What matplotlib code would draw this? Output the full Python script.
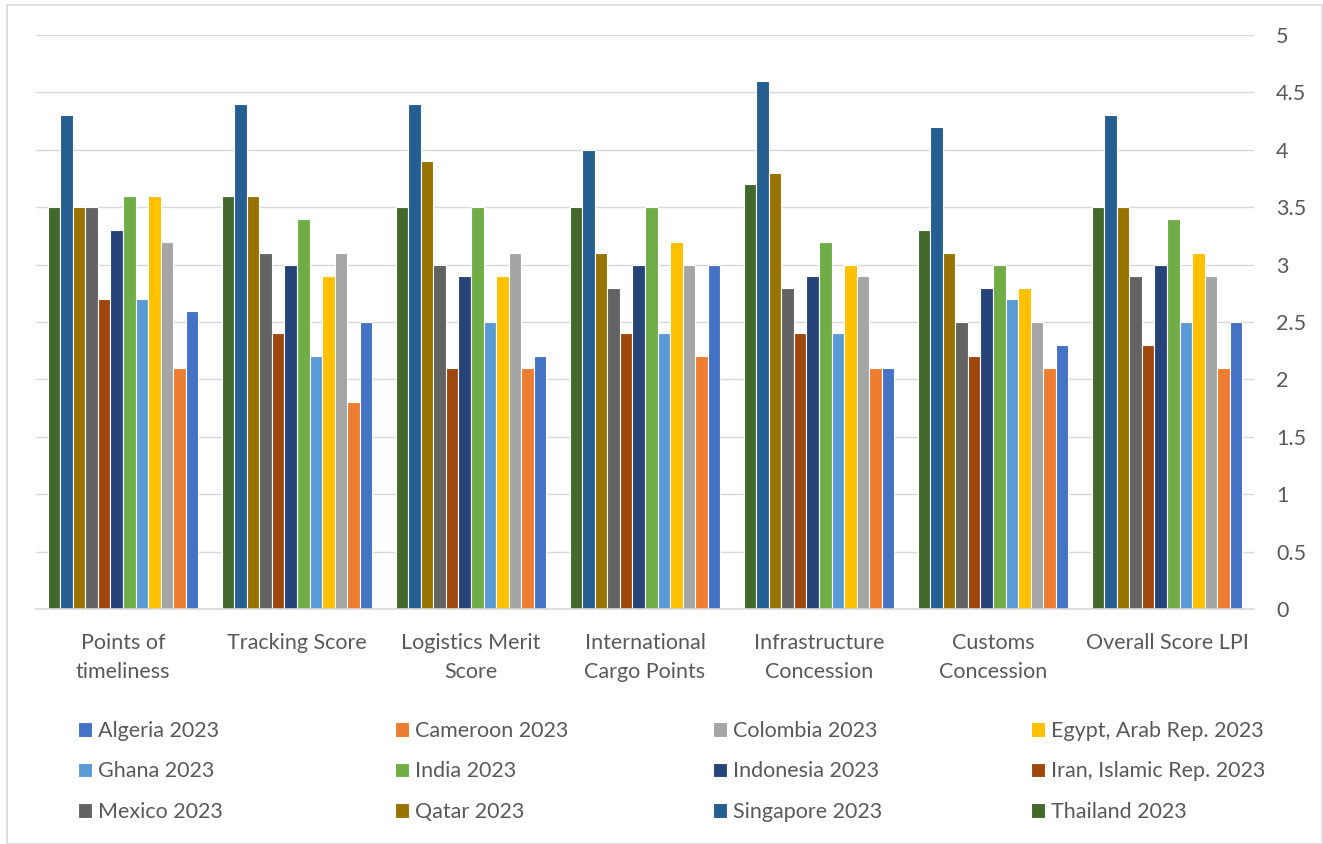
import matplotlib.pyplot as plt
import matplotlib.patches as mpatches
import numpy as np

plt.rcParams['font.family'] = ['Lato', 'DejaVu Sans']

categories = ['Points of\ntimeliness', 'Tracking Score', 'Logistics Merit\nScore',
              'International\nCargo Points', 'Infrastructure\nConcession',
              'Customs\nConcession', 'Overall Score LPI']

# legend order
countries = ['Algeria 2023', 'Cameroon 2023', 'Colombia 2023', 'Egypt, Arab Rep. 2023',
             'Ghana 2023', 'India 2023', 'Indonesia 2023', 'Iran, Islamic Rep. 2023',
             'Mexico 2023', 'Qatar 2023', 'Singapore 2023', 'Thailand 2023']
colors = ['#4472C4', '#ED7D31', '#A5A5A5', '#FFC000', '#5B9BD5', '#70AD47',
          '#264478', '#9E480E', '#636363', '#997300', '#255E91', '#43682B']

algeria = [2.6, 2.5, 2.2, 3.0, 2.1, 2.3, 2.5]
cameroon = [2.1, 1.8, 2.1, 2.2, 2.1, 2.1, 2.1]
colombia = [3.2, 3.1, 3.1, 3.0, 2.9, 2.5, 2.9]
egypt = [3.6, 2.9, 2.9, 3.2, 3.0, 2.8, 3.1]
ghana = [2.7, 2.2, 2.5, 2.4, 2.4, 2.7, 2.5]
india = [3.6, 3.4, 3.5, 3.5, 3.2, 3.0, 3.4]
indonesia = [3.3, 3.0, 2.9, 3.0, 2.9, 2.8, 3.0]
iran = [2.7, 2.4, 2.1, 2.4, 2.4, 2.2, 2.3]
mexico = [3.5, 3.1, 3.0, 2.8, 2.8, 2.5, 2.9]
qatar = [3.5, 3.6, 3.9, 3.1, 3.8, 3.1, 3.5]
singapore = [4.3, 4.4, 4.4, 4.0, 4.6, 4.2, 4.3]
thailand = [3.5, 3.6, 3.5, 3.5, 3.7, 3.3, 3.5]

values = [algeria, cameroon, colombia, egypt, ghana, india, indonesia, iran,
          mexico, qatar, singapore, thailand]

W, H = 1323, 844
fig = plt.figure(figsize=(W / 100, H / 100), dpi=100)
ax = fig.add_axes([36 / W, 1 - 609 / H, (1254 - 36) / W, (609 - 35) / H])

x = np.arange(len(categories))
slot = 0.0723
n = len(countries)
handles = {}
# bars go from Thailand (left) to Algeria (right)
for pos, k in enumerate(range(n - 1, -1, -1)):
    offs = (pos - (n - 1) / 2) * slot
    b = ax.bar(x + offs, values[k], width=slot, color=colors[k],
               edgecolor='white', linewidth=0.8, label=countries[k], zorder=3)
    handles[k] = b

ax.set_xlim(-0.5, len(categories) - 0.5)
ax.set_ylim(0, 5)
ax.set_yticks(np.arange(0, 5.01, 0.5))
ax.set_yticklabels(['0', '0.5', '1', '1.5', '2', '2.5', '3', '3.5', '4', '4.5', '5'])
ax.yaxis.tick_right()
ax.tick_params(axis='y', length=0, pad=16, labelsize=15.5, labelcolor='#595959')
ax.set_xticks(x)
ax.set_xticklabels(categories, fontsize=15.5, color='#595959', linespacing=1.6)
ax.tick_params(axis='x', length=0, pad=17)
ax.grid(axis='y', color='#D9D9D9', linewidth=1.0, zorder=0)
for s in ['top', 'right', 'left']:
    ax.spines[s].set_visible(False)
ax.spines['bottom'].set_color('#D9D9D9')
ax.spines['bottom'].set_linewidth(1.2)
ax.spines['bottom'].set_zorder(4)

# legend: 4 equal-width columns, filled row by row
col_x = [78, 395, 713, 1031]
for c in range(4):
    idx = [c, c + 4, c + 8]
    fig.legend([handles[i] for i in idx], [countries[i] for i in idx],
               loc='upper left', bbox_to_anchor=(col_x[c] / W, 1 - 721 / H),
               ncol=1, frameon=False, fontsize=15.5, labelcolor='#595959',
               handlelength=0.65, handleheight=0.65, handletextpad=0.28,
               labelspacing=0.95, borderpad=0, borderaxespad=0)

fig.patches.append(mpatches.Rectangle((7 / W, 0), 1315 / W, 1 - 5 / H,
                                      transform=fig.transFigure, fill=False,
                                      edgecolor='#D9D9D9', linewidth=1.2))

fig.savefig('out.png', dpi=100)
